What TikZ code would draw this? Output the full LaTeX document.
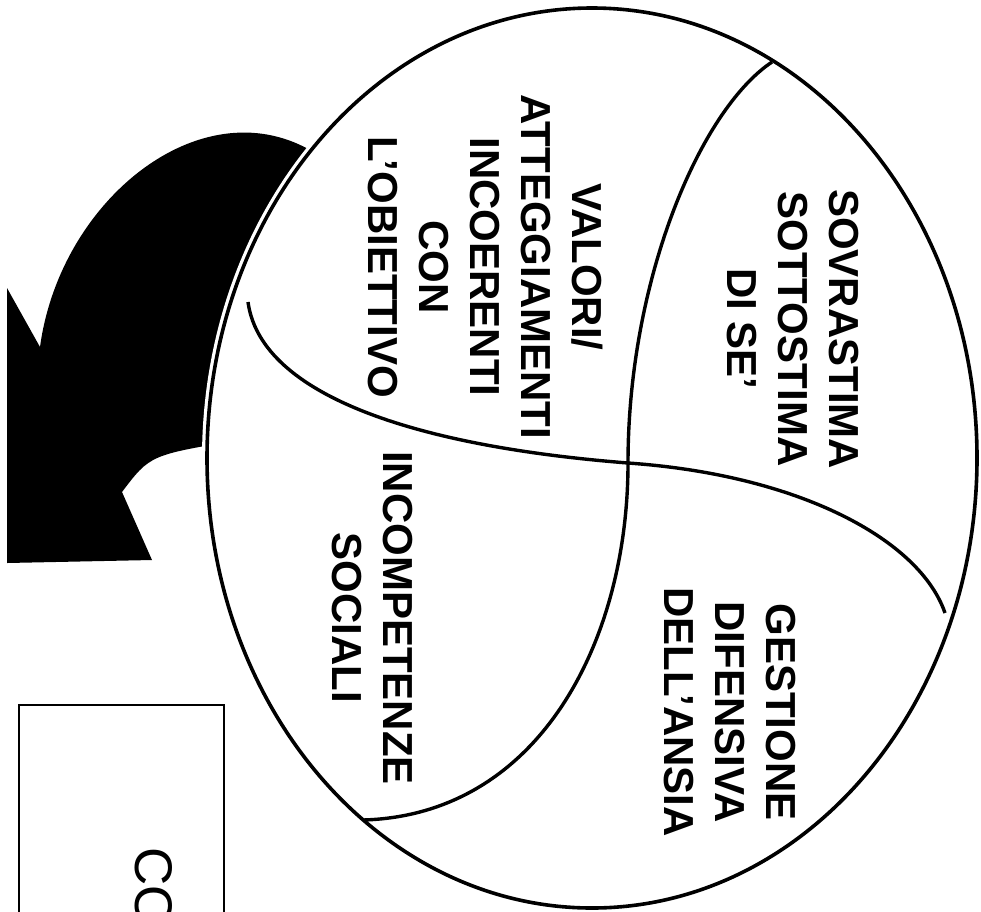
\documentclass[tikz,border=0pt]{standalone}
\usepackage{fontspec}
\setmainfont{Liberation Sans}
\begin{document}
\begin{tikzpicture}[x=1pt,y=-1pt,
  every node/.style={rotate=-90,align=center,inner sep=0pt},
  area/.style={font=\bfseries\fontsize{42}{51}\selectfont},
  rim/.style={line width=3.6pt},
  cut/.style={line width=3.4pt}]
\useasboundingbox (0,0) rectangle (981,911);
\clip (0,0) rectangle (981,911);
\fill (310,150) .. controls (200,88) and (60,200) .. (40,347) -- (7,288) -- (7,563) -- (152,560) -- (122,492)
  .. controls (150,455) .. (240,440) -- (290,300) -- cycle;
\draw[line width=2pt] (19,705) rectangle (224,940);
\node[font=\fontsize{53}{60}\selectfont,anchor=west] (co) at (154,847) {CO};
\fill[white,draw=white,line width=10pt] (592,458) ellipse (385 and 450);
\draw[rim] (592,458) ellipse (385 and 450);
\draw[cut] (772,62) .. controls (700,110) and (628,280) .. (628,463)
  .. controls (628,640) and (540,815) .. (363,820);
\draw[cut] (248,302) .. controls (260,390) and (400,445) .. (628,463)
  .. controls (800,475) and (920,540) .. (945,613);
\node[area] (sovra) at (793,329) {SOVRASTIMA\\SOTTOSTIMA\\DI SE’};
\node[area] (valori) at (486,267) {VALORI/\\ATTEGGIAMENTI\\INCOERENTI\\CON\\L’OBIETTIVO};
\node[area] (gestione) at (730,712) {GESTIONE\\DIFENSIVA\\DELL’ANSIA};
\node[area] (incomp) at (372,618) {INCOMPETENZE\\SOCIALI};
\end{tikzpicture}
\end{document}
